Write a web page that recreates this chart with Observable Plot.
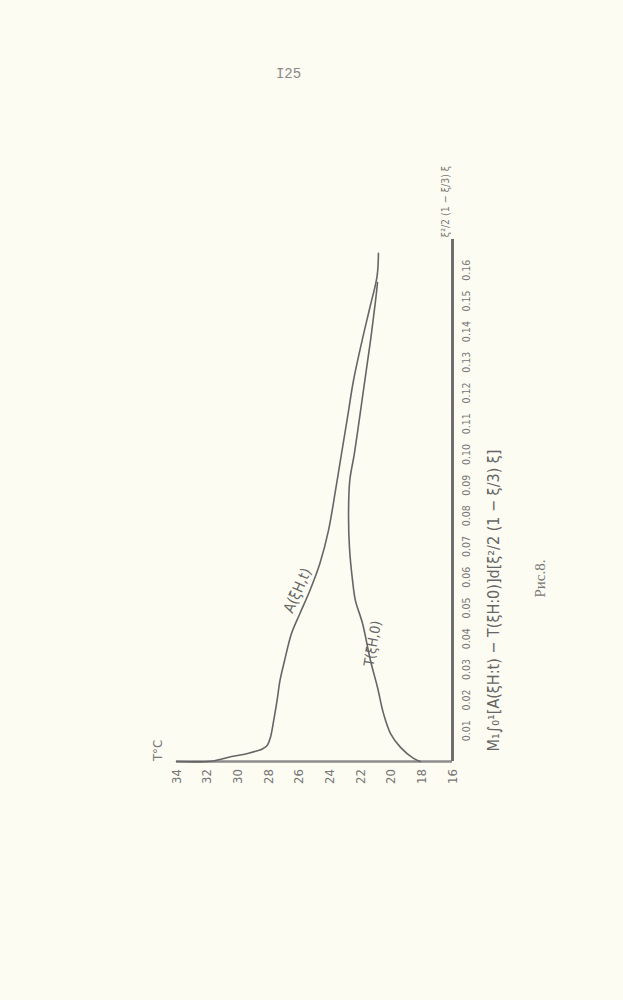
<!DOCTYPE html>
<html>
<head>
<meta charset="utf-8">
<script src="https://cdn.jsdelivr.net/npm/d3@7"></script>
<script src="https://cdn.jsdelivr.net/npm/@observablehq/plot@0.6"></script>
<style>
  html, body { margin: 0; padding: 0; background: #fcfcf2; }
  #chart svg { display: block; }
</style>
</head>
<body>
<div id="chart"></div>
<script>
// Temperature axis ticks (°C)
const tempTicks = [34, 32, 30, 28, 26, 24, 22, 20, 18, 16];
// Abscissa ticks
const xiTicks = [0.01, 0.02, 0.03, 0.04, 0.05, 0.06, 0.07, 0.08, 0.09, 0.10, 0.11, 0.12, 0.13, 0.14, 0.15, 0.16];
const xiTickLabels = ["0.01", "0.02", "0.03", "0.04", "0.05", "0.06", "0.07", "0.08", "0.09", "0.10", "0.11", "0.12", "0.13", "0.14", "0.15", "0.16"];

// Curve A(ξH,t)
const aXi = [0, 0.0001, 0.0016, 0.0027, 0.0041, 0.0051, 0.0079, 0.0134, 0.0199, 0.0264, 0.0329, 0.0417, 0.0482, 0.0557, 0.0645, 0.0752, 0.0883, 0.099, 0.112, 0.124, 0.137, 0.148, 0.158, 0.1655];
const aTemp = [34.0, 31.7, 30.4, 29.3, 28.4, 28.1, 27.87, 27.66, 27.44, 27.25, 26.95, 26.5, 25.95, 25.3, 24.65, 24.09, 23.63, 23.28, 22.85, 22.46, 21.9, 21.38, 20.92, 20.83];

// Curve T(ξH,0)
const tXi = [0, 0.001, 0.0046, 0.0091, 0.0156, 0.0241, 0.0329, 0.045, 0.0524, 0.059, 0.0697, 0.0808, 0.0915, 0.1003, 0.1208, 0.137, 0.150, 0.156];
const tTemp = [18.1, 18.54, 19.39, 20.04, 20.5, 20.89, 21.35, 21.87, 22.33, 22.52, 22.72, 22.78, 22.7, 22.4, 21.81, 21.35, 21.02, 20.89];

const aData = aXi.map((s, i) => ({s, T: aTemp[i]}));
const tData = tXi.map((s, i) => ({s, T: tTemp[i]}));

const ink = "#666666";
const narrow = "'Liberation Sans Narrow', 'DejaVu Sans Condensed', 'DejaVu Sans', sans-serif";
const hand = "'DejaVu Sans Condensed', 'DejaVu Sans', sans-serif";
const centred = {textAnchor: "middle", lineAnchor: "middle"};

const chart = Plot.plot({
  width: 623,
  height: 1000,
  marginLeft: 176,
  marginRight: 171,
  marginTop: 239,
  marginBottom: 239,
  style: {background: "#fcfcf2", color: ink},
  x: {domain: [34, 16], axis: null},
  y: {domain: [0, 0.17], axis: null},
  marks: [
    Plot.ruleY([0], {stroke: "#8c8c8c", strokeWidth: 2.5}),
    Plot.ruleX([16], {stroke: "#6e6e6e", strokeWidth: 3}),
    Plot.line(aData, {x: "T", y: "s", stroke: ink, strokeWidth: 1.6, curve: "catmull-rom"}),
    Plot.line(tData, {x: "T", y: "s", stroke: ink, strokeWidth: 1.6, curve: "catmull-rom"}),
    // temperature tick labels
    Plot.text(tempTicks, {x: d => d, text: d => String(d), frameAnchor: "bottom", dy: 15, rotate: -90,
      ...centred, fontSize: 13, fontFamily: narrow, fill: "#777"}),
    // abscissa tick labels
    Plot.text(xiTicks, {y: d => d, text: (d, i) => xiTickLabels[i], frameAnchor: "right", dx: 14, rotate: -90,
      ...centred, fontSize: 10.5, fontFamily: narrow, fill: "#777"}),
    // axis names
    Plot.text(["T°C"], {frameAnchor: "bottom-left", dx: -19, dy: -11, rotate: -90, ...centred, fontSize: 13,
      fontFamily: narrow, fill: "#777"}),
    Plot.text(["ξ²/2 (1 − ξ/3) ξ"], {frameAnchor: "top-right", dx: -7, dy: -38, rotate: -90, ...centred, fontSize: 10.5,
      fontFamily: hand, fill: "#777"}),
    Plot.text(["M₁∫₀¹[A(ξH:t) − T(ξH:0)]d[ξ²/2 (1 − ξ/3) ξ]"], {frameAnchor: "right", dx: 41, dy: 100, rotate: -90,
      ...centred, fontSize: 16, fontFamily: hand, fill: "#666"}),
    Plot.text(["Рис.8."], {frameAnchor: "right", dx: 88, dy: 78, rotate: -90, ...centred, fontSize: 15,
      fontFamily: "'Liberation Serif', 'DejaVu Serif', serif", fill: "#777"}),
    Plot.text(["I25"], {frameAnchor: "top", dx: -26, dy: -166, ...centred, fontSize: 14,
      fontFamily: "'Liberation Mono', 'DejaVu Sans Mono', monospace", fill: "#888"}),
    // curve labels
    Plot.text(["A(ξH,t)"], {x: [26.1], y: [0.0557], rotate: -66, ...centred, fontSize: 15, fontFamily: hand, fill: "#666"}),
    Plot.text(["T(ξH,0)"], {x: [21.2], y: [0.0384], rotate: -80, ...centred, fontSize: 14, fontFamily: hand, fill: "#666"})
  ]
});
document.getElementById("chart").appendChild(chart);
</script>
</body>
</html>
